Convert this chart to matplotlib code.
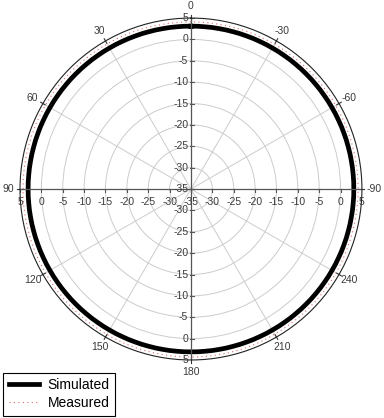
import matplotlib
matplotlib.use("Agg")
import matplotlib.pyplot as plt
import numpy as np

plt.rcParams["font.family"] = ["Liberation Sans", "DejaVu Sans"]

# pattern data (dB), angles in degrees
angles_deg = [0, 10, 20, 30, 40, 50, 60, 70, 80, 90, 100, 110, 120,
              130, 140, 150, 160, 170, 180, 190, 200, 210, 220, 230, 240,
              250, 260, 270, 280, 290, 300, 310, 320, 330, 340, 350, 360]
simulated = [3.1, 3.1, 3.1, 3.1, 3.1, 3.1, 3.1, 3.1, 3.1, 3.1, 3.1, 3.1, 3.1,
             3.1, 3.1, 3.1, 3.1, 3.1, 3.1, 3.1, 3.1, 3.1, 3.1, 3.1, 3.1,
             3.1, 3.1, 3.1, 3.1, 3.1, 3.1, 3.1, 3.1, 3.1, 3.1, 3.1, 3.1]
measured = [4.1, 4.1, 4.2, 4.2, 4.2, 4.3, 4.3, 4.3, 4.3, 4.3, 4.3, 4.3, 4.3,
            4.3, 4.3, 4.3, 4.3, 4.3, 4.3, 4.3, 4.3, 4.2, 4.2, 4.2, 4.2,
            4.1, 4.1, 4.1, 4.1, 4.1, 4.1, 4.1, 4.1, 4.1, 4.1, 4.1, 4.1]

angle_ticks = [0, 30, 60, 90, 120, 150, 180, 210, 240, 270, 300, 330]
angle_labels = ["0", "30", "60", "90", "120", "150", "180", "210", "240",
                "-90", "-60", "-30"]
r_ticks = [-35, -30, -25, -20, -15, -10, -5, 0, 5]
r_min, r_max = -35, 5

fig = plt.figure(figsize=(3.84, 4.18), dpi=100)
ax = fig.add_axes([0.052, 0.1388, 0.8906, 0.818], projection="polar")
ax.set_theta_zero_location("N")
ax.set_theta_direction(1)
ax.set_rlim(r_min, r_max)

ax.set_thetagrids(angle_ticks, [""] * len(angle_ticks))
ax.set_rgrids(r_ticks[1:-1], labels=[""] * (len(r_ticks) - 2))
ax.grid(color="#cccccc", linewidth=0.7)
ax.spines["polar"].set_linewidth(0.8)
ax.spines["polar"].set_color("#222222")

th = np.deg2rad(angles_deg)
l1, = ax.plot(th, simulated, color="black", linewidth=3.4, label="Simulated")
l2, = ax.plot(th, measured, color="#e06a6a", linewidth=0.8,
              linestyle=(0, (1, 3)), label="Measured")
for ln in (l1, l2):
    ln.get_path()._interpolation_steps = 40

tr = ax.transAxes
txt_color = "#3a3a3a"

# outer angle tick marks and labels
for a, lab in zip(angle_ticks, angle_labels):
    t = np.deg2rad(a)
    ax.plot([t, t], [r_max - 0.6, r_max + 0.6], color="#333333",
            linewidth=0.8, clip_on=False)
    ax.text(0.5 - 0.535 * np.sin(t), 0.5 + 0.535 * np.cos(t), lab,
            transform=tr, ha="center", va="center", fontsize=7.5,
            color=txt_color)

# main cross axes
ax.plot([0.5, 0.5], [0, 1], transform=tr, color="#555555", linewidth=0.9)
ax.plot([0, 1], [0.5, 0.5], transform=tr, color="#555555", linewidth=0.9)

span = r_max - r_min
for v in r_ticks:
    f = (v - r_min) / span * 0.5
    for sgn in (1, -1):
        y = 0.5 + sgn * f
        ax.plot([0.497, 0.51], [y, y], transform=tr, color="#555555",
                linewidth=0.8)
        x = 0.5 + sgn * f
        ax.plot([x, x], [0.49, 0.5], transform=tr, color="#555555",
                linewidth=0.8)

lab_kw = dict(transform=tr, fontsize=7.5, color=txt_color)
for v in r_ticks:
    f = (v - r_min) / span * 0.5
    ax.text(0.492, 0.5 + f, str(v), ha="right", va="center", **lab_kw)
    if v != r_min:
        ax.text(0.492, 0.5 - f, str(v), ha="right", va="center", **lab_kw)
    ax.text(0.5 - f, 0.478, str(v), ha="center", va="top", **lab_kw)
    if v != r_min:
        ax.text(0.5 + f, 0.478, str(v), ha="center", va="top", **lab_kw)

leg = fig.legend(loc="lower left", bbox_to_anchor=(0.008, 0.005),
                 fancybox=False, edgecolor="black", framealpha=1,
                 fontsize=10, handlelength=2.2, handletextpad=0.6,
                 borderaxespad=0, labelspacing=0.3, borderpad=0.4)
leg.get_frame().set_linewidth(0.8)

fig.savefig("out.png", dpi=100)
